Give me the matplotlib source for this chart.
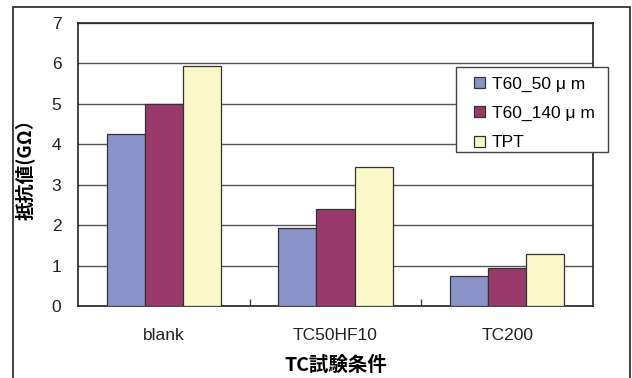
import numpy as np
import matplotlib.pyplot as plt
from matplotlib.patches import Rectangle

categories = ['blank', 'TC50HF10', 'TC200']
series_names = ['T60_50 μ m', 'T60_140 μ m', 'TPT']
t60_50 = [4.24, 1.92, 0.75]
t60_140 = [5.00, 2.40, 0.93]
tpt = [5.92, 3.44, 1.28]
colors = ['#8A93C9', '#993A6B', '#FAF7C8']

latin = ['Liberation Sans', 'Noto Sans CJK JP']
cjk = ['Noto Sans CJK JP', 'Liberation Sans']
plt.rcParams['font.family'] = latin

fig = plt.figure(figsize=(6.32, 3.78), dpi=100)
ax = fig.add_axes([78 / 632, 72 / 378, 515 / 632, 283.3 / 378])

x = np.arange(len(categories))
w = 0.222
for i, (vals, name, c) in enumerate(zip([t60_50, t60_140, tpt], series_names, colors)):
    ax.bar(x + (i - 1) * w, vals, w, color=c, edgecolor='#333333', linewidth=0.9,
           label=name, zorder=3)

ax.set_xlim(-0.5, 2.5)
ax.set_ylim(0, 7)
ax.set_yticks(range(0, 8))
ax.yaxis.grid(True, color='#555555', linewidth=1.0, zorder=0)
ax.set_axisbelow(True)

ax.set_xticks(x)
ax.set_xticklabels(categories)
ax.set_xticks([0.5, 1.5], minor=True)
ax.tick_params(axis='x', which='major', length=0, pad=16, labelsize=12.5, colors='#222222')
ax.tick_params(axis='x', which='minor', direction='in', length=5, width=1, color='#444444')
ax.tick_params(axis='y', length=0, pad=12, labelsize=12.5, colors='#222222')

for s in ax.spines.values():
    s.set_color('#222222')
    s.set_linewidth(1.2)

ax.set_ylabel('抵抗値(GΩ）', family=cjk, fontweight='bold', fontsize=13.5)
ax.yaxis.set_label_coords(-42 / 515, 0.5)
ax.set_xlabel('TC試験条件', family=cjk, fontweight='bold', fontsize=14)
ax.xaxis.set_label_coords(0.5, -50 / 283.3)

# legend entries without their own frame; the box is drawn separately
leg = fig.legend(loc='upper left', bbox_to_anchor=(474 / 632, 1 - 76.5 / 378),
                 fontsize=12.5, frameon=False,
                 handlelength=0.62, handleheight=0.62, handletextpad=0.4,
                 labelspacing=0.82, borderpad=0, borderaxespad=0)
fig.add_artist(Rectangle((456 / 632, 1 - 152 / 378), 152 / 632, 85 / 378,
                         transform=fig.transFigure, facecolor='white',
                         edgecolor='#444444', linewidth=1.0, zorder=4))
leg.set_zorder(5)

# outer frame around the whole figure
fig.add_artist(Rectangle((13 / 632, -0.05), (630 - 13) / 632, 1.05 - 7 / 378,
                         transform=fig.transFigure, fill=False,
                         edgecolor='#222222', linewidth=1.2))

fig.savefig('out.png', dpi=100)
